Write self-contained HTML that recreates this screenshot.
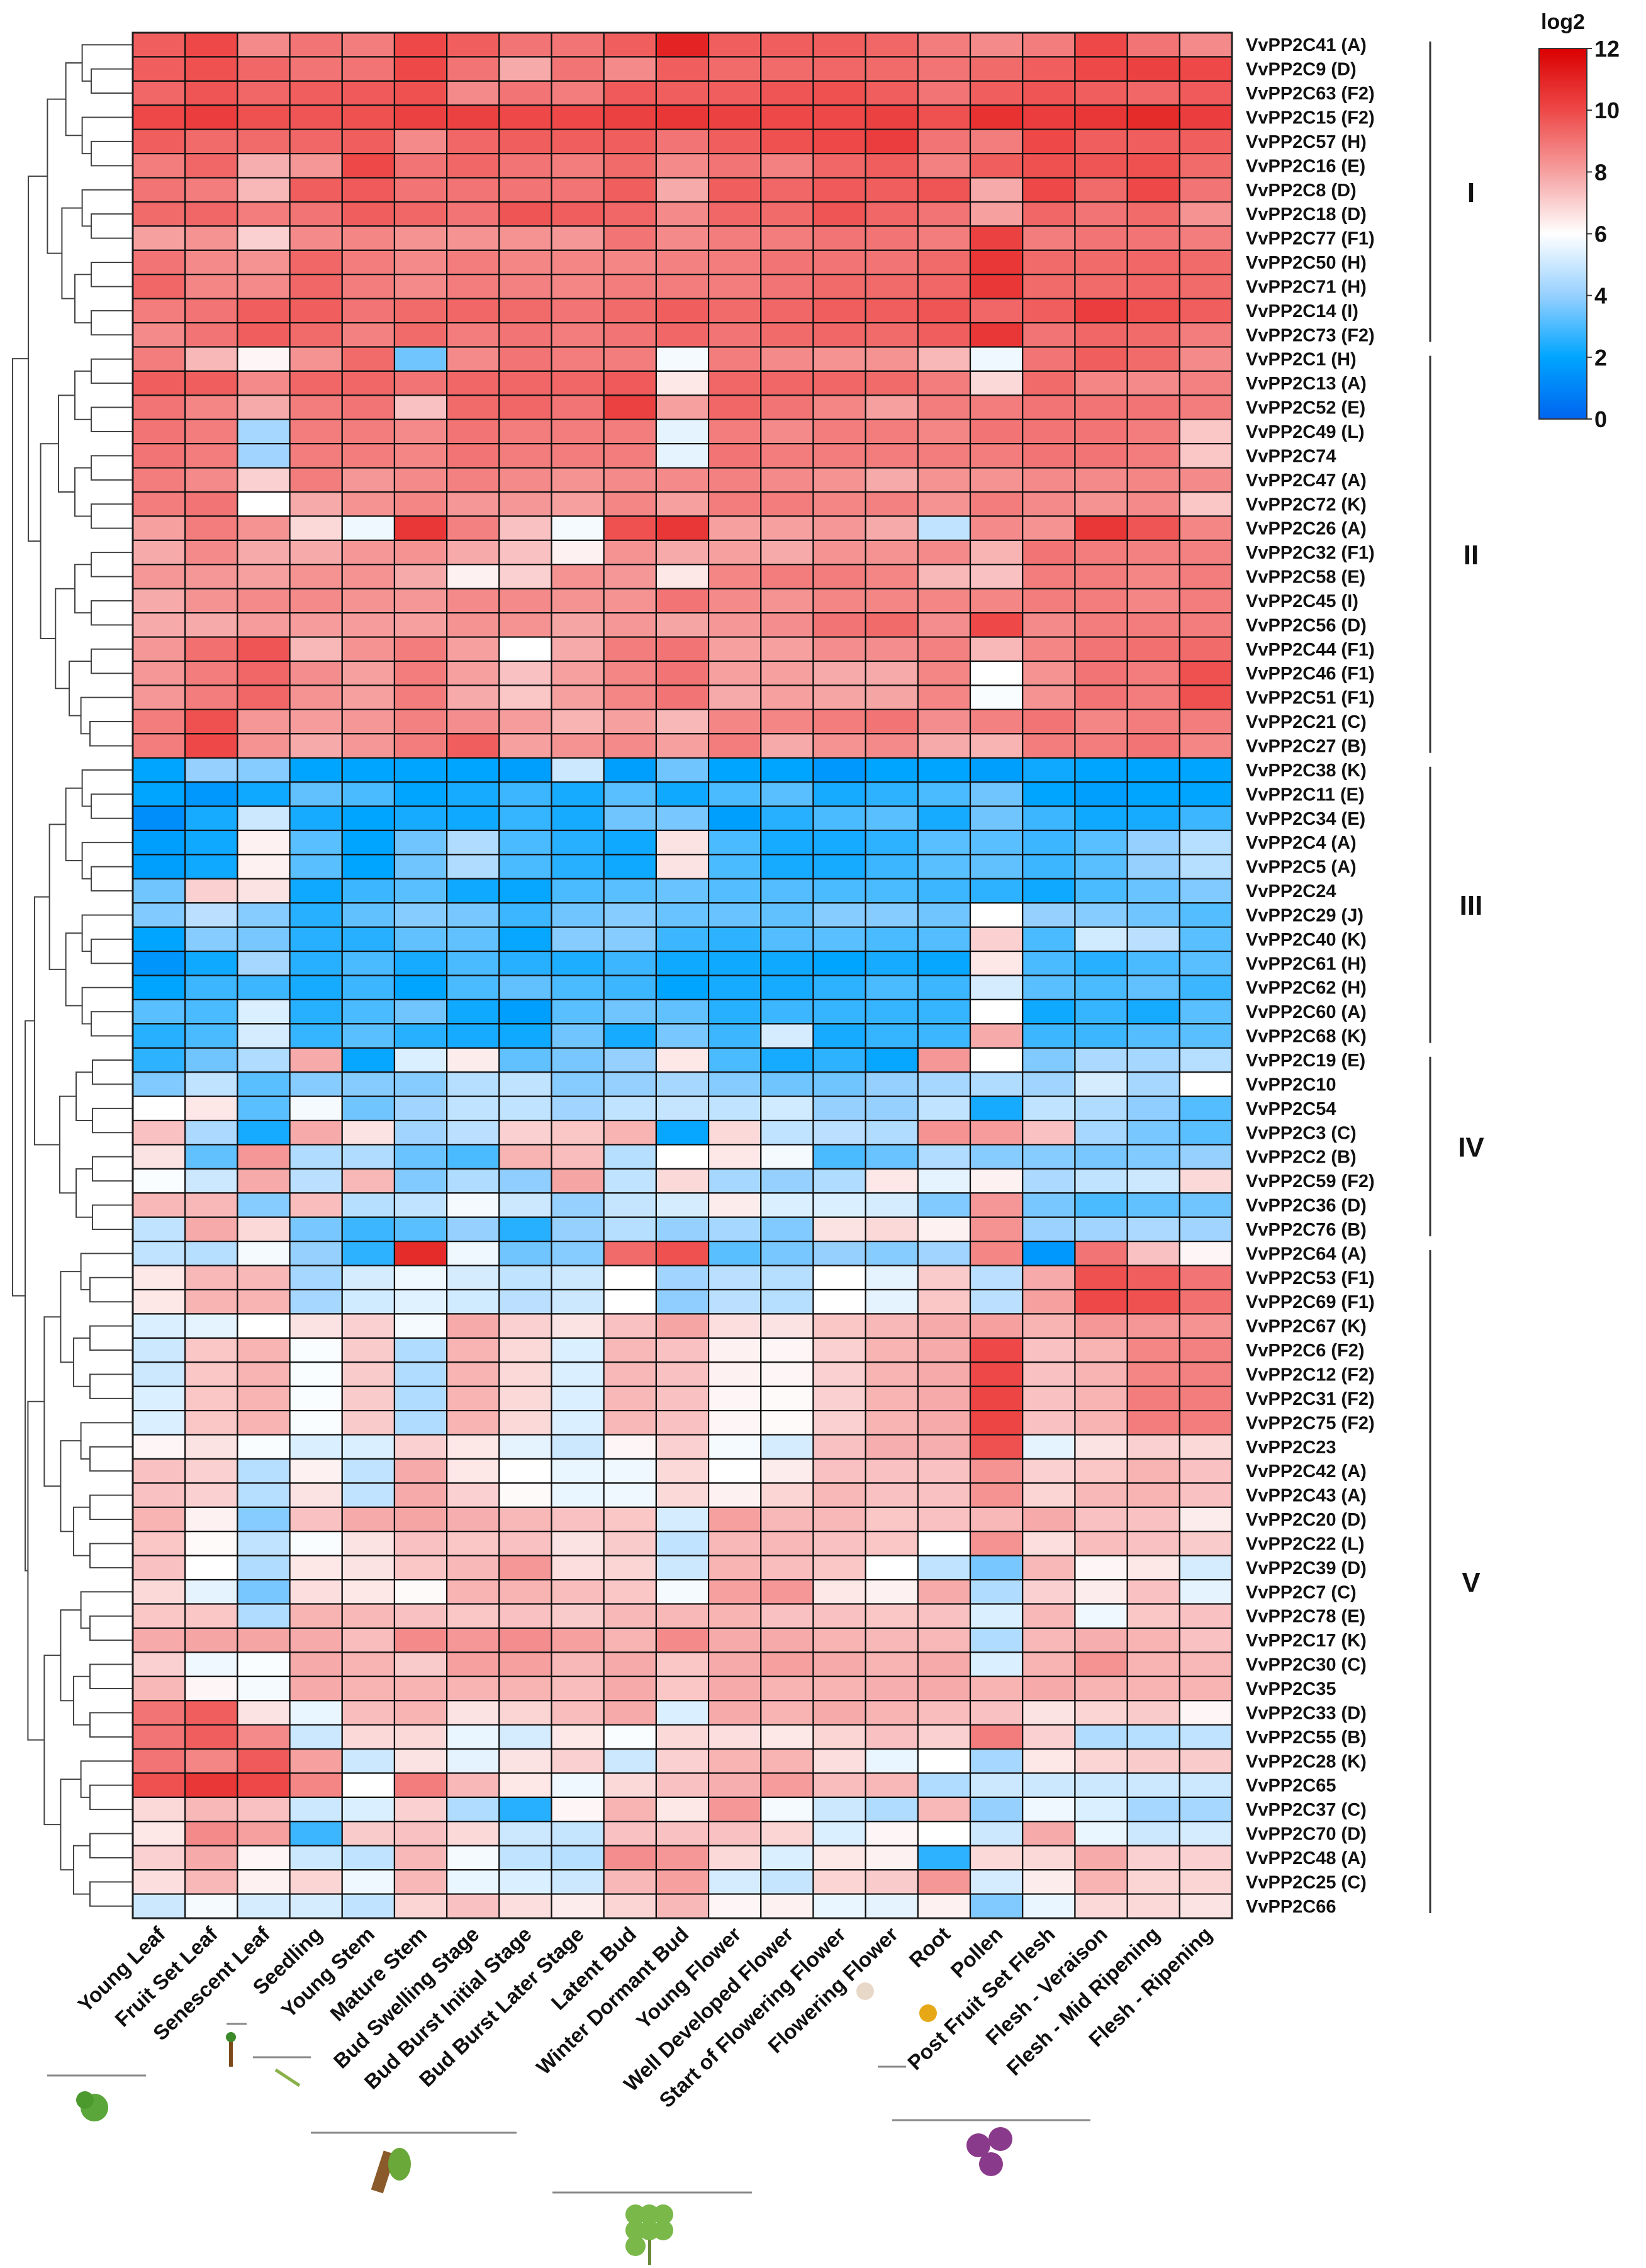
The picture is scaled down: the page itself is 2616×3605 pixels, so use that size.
<!DOCTYPE html>
<html><head><meta charset="utf-8">
<style>
html,body{margin:0;padding:0;background:#fff;}
svg{display:block;}
text{font-family:"Liberation Sans",sans-serif;}
</style></head>
<body>
<svg id="chart" width="2616" height="3605" viewBox="0 0 2616 3605" xmlns="http://www.w3.org/2000/svg">
<g id="dendro"></g>
<g id="cells"></g>
<g id="rowlabels"></g>
<g id="collabels"></g>
<g id="clusters"></g>
<g id="legend"></g>
<g id="icons"></g>
</svg>
<script>
const genes=["VvPP2C41 (A)","VvPP2C9 (D)","VvPP2C63 (F2)","VvPP2C15 (F2)","VvPP2C57 (H)","VvPP2C16 (E)","VvPP2C8 (D)","VvPP2C18 (D)","VvPP2C77 (F1)","VvPP2C50 (H)","VvPP2C71 (H)","VvPP2C14 (I)","VvPP2C73 (F2)","VvPP2C1 (H)","VvPP2C13 (A)","VvPP2C52 (E)","VvPP2C49 (L)","VvPP2C74","VvPP2C47 (A)","VvPP2C72 (K)","VvPP2C26 (A)","VvPP2C32 (F1)","VvPP2C58 (E)","VvPP2C45 (I)","VvPP2C56 (D)","VvPP2C44 (F1)","VvPP2C46 (F1)","VvPP2C51 (F1)","VvPP2C21 (C)","VvPP2C27 (B)","VvPP2C38 (K)","VvPP2C11 (E)","VvPP2C34 (E)","VvPP2C4 (A)","VvPP2C5 (A)","VvPP2C24","VvPP2C29 (J)","VvPP2C40 (K)","VvPP2C61 (H)","VvPP2C62 (H)","VvPP2C60 (A)","VvPP2C68 (K)","VvPP2C19 (E)","VvPP2C10","VvPP2C54","VvPP2C3 (C)","VvPP2C2 (B)","VvPP2C59 (F2)","VvPP2C36 (D)","VvPP2C76 (B)","VvPP2C64 (A)","VvPP2C53 (F1)","VvPP2C69 (F1)","VvPP2C67 (K)","VvPP2C6 (F2)","VvPP2C12 (F2)","VvPP2C31 (F2)","VvPP2C75 (F2)","VvPP2C23","VvPP2C42 (A)","VvPP2C43 (A)","VvPP2C20 (D)","VvPP2C22 (L)","VvPP2C39 (D)","VvPP2C7 (C)","VvPP2C78 (E)","VvPP2C17 (K)","VvPP2C30 (C)","VvPP2C35","VvPP2C33 (D)","VvPP2C55 (B)","VvPP2C28 (K)","VvPP2C65","VvPP2C37 (C)","VvPP2C70 (D)","VvPP2C48 (A)","VvPP2C25 (C)","VvPP2C66"];
const tissues=["Young Leaf","Fruit Set Leaf","Senescent Leaf","Seedling","Young Stem","Mature Stem","Bud Swelling Stage","Bud Burst Initial Stage","Bud Burst Later Stage","Latent Bud","Winter Dormant Bud","Young Flower","Well Developed Flower","Start of Flowering Flower","Flowering Flower","Root","Pollen","Post Fruit Set Flesh","Flesh - Veraison","Flesh - Mid Ripening","Flesh - Ripening"];
const values=[
[9.5,10,8.5,9,8.8,10,9.5,9,9,9.5,11,9.5,9.5,9.5,9.3,8.8,8.5,8.8,10,9,8.5],
[9.5,9.8,9.3,9,9,10,9,7.8,9,8.5,9.5,9.2,9.2,9.3,9.2,9,9.2,9.5,10,10.2,10],
[9.3,9.7,9.3,9.5,9.6,9.8,8.5,9,8.8,9.6,9.5,9.5,9.7,9.8,9.5,9,9.5,9.7,9.5,9.3,9.6],
[10,10.3,9.8,9.7,9.8,10.2,10.2,10,10,10.2,10.5,10.2,10,10,10.2,9.8,10.6,10.3,10.5,10.8,10.3],
[9.5,9.2,9.2,9.3,9.5,8.5,9.3,9.5,9.5,9.5,9,9.5,9.8,10,10.3,9,8.8,10,9.5,9.5,9.5],
[8.8,9.3,7.7,8.2,10,9,9.3,9,8.8,9.2,8.5,9,8.7,9.3,9.5,8.7,9.5,9.8,9.7,9.8,9.2],
[9,8.8,7.5,9.5,9.6,9,9,9,9,9.5,7.8,9.5,9.3,9.6,9.5,9.7,7.8,10,9.2,10,9],
[9.2,9.3,8.8,9,9.5,9.3,9,9.7,9.5,9.3,8.5,9.3,9.2,9.7,9.3,9,8,9.3,9,9.2,8.3],
[8,8.3,7,8.5,8.6,8.3,8.3,8.3,8.2,9,8.5,8.8,8.8,9,9,8.8,10.2,8.8,9,9,8.8],
[9,8.5,8.3,9.3,8.8,8.5,8.8,8.6,8.6,8.6,8.7,8.8,9,9,9,9.2,10.5,9.2,9.2,9.3,9.2],
[9.3,8.6,8.5,9.3,8.8,8.5,8.8,8.7,8.6,8.8,8.8,8.8,9,9.2,9.2,9.3,10.5,9.2,9.2,9.3,9.2],
[8.8,9,9.5,9.5,9,9.2,9.3,9.2,9,9.2,9.5,9.2,9.3,9.5,9.5,9.7,9.3,9.5,10.3,9.8,9.5],
[8.5,9,9.5,9.2,8.7,9.2,8.8,9,8.8,9,9.3,9,9.2,9.3,9.2,9.5,10.5,9,9.3,9.2,8.8],
[8.8,7.5,6.2,8.3,9.2,3.5,8.5,9,8.8,8.8,5.8,8.8,8.5,8.3,8.3,7.5,5.7,9,9.5,9.2,8.5],
[9.5,9.5,8.5,9.3,9.3,9,9.3,9.3,9.3,9.6,6.5,9.3,9.3,9.3,9.2,8.8,6.8,9.2,8.6,8.5,8.7],
[9,8.6,7.8,8.8,9,7.3,9.2,9.3,9,10.2,8,9.3,9,8.6,8,8.8,8.8,9,9,9,8.8],
[9,8.8,4.3,8.8,8.8,8.5,9,8.8,8.8,8.8,5.5,8.8,8.5,8.8,8.8,8.6,9,9,9,8.8,7.2],
[9,8.8,4.2,8.8,8.8,8.6,9,8.8,8.8,8.8,5.5,9,8.8,8.8,8.8,8.8,8.8,9,9,8.8,7.2],
[8.8,8.5,7,8.8,8.2,8.5,8.7,8.5,8.3,8.5,8.5,8.7,8.5,8.3,7.8,8.3,8.3,8.5,8.5,8.6,8.5],
[8.8,9,6,7.8,8.3,8.6,8.2,8.2,8,8.6,8,8.8,8.8,8.6,8.7,8.3,8.8,8.5,8.3,8.5,7.2],
[8,8.8,8.3,6.8,5.7,10.5,8.7,7.3,5.8,9.8,10.5,8,8,8.2,7.8,4.8,8.5,8.3,10.5,9.7,8.6],
[7.8,8.5,7.8,7.8,8.2,8.3,7.8,7.3,6.3,8.3,7.8,8,7.8,8.3,8.3,8.5,7.6,9,8.8,8.7,8.7],
[8.2,8.2,8,8.3,8.3,7.8,6.3,7,8.3,8.2,6.5,8.6,8.8,8.8,8.6,7.5,7.3,8.8,8.8,8.6,8.8],
[7.8,8.3,8.5,8.5,8.3,8.2,8.5,8.5,8.3,8.3,9,8.5,8.3,8.6,8.6,8.6,8.6,8.8,8.8,8.6,8.8],
[7.8,7.8,8.1,8.1,8.1,8,8.3,8.3,7.9,8.2,7.9,8.2,8.4,9,9.2,8.4,10,8.5,8.8,8.8,8.8],
[8.2,9.1,9.7,7.5,8.3,8.8,8,6,7.8,8.8,9,8,8,8.4,8.4,8.7,7.5,8.6,9,9.1,9.2],
[8.2,8.8,9.3,8.4,8,8.8,8,7.3,8,8.6,9,8,8,7.8,7.8,8.6,6,8.3,9,8.8,9.8],
[8.2,8.8,9.3,8.3,8,8.8,7.8,7.2,8,8.6,9,7.8,8,7.9,7.9,8.6,5.9,8.3,9,8.8,9.8],
[8.8,9.8,8.2,8.1,8.2,8.7,8.4,8.1,7.6,8,7.5,8.6,8.6,8.8,9,8.4,8.7,9,8.6,8.8,8.8],
[8.8,10,8.3,7.8,8.2,8.8,9.5,8,8.3,8.5,8,8.8,7.8,8.3,8.5,7.8,7.6,8.8,8.8,9,8.6],
[2,4,3.8,2,2,2,2,1.8,5,1.8,3.5,2,2,1.6,2,2,1.8,2.2,2,2,2],
[2,1.6,2.2,3.3,3,2,2.3,2.8,2.3,3.2,2.2,3,3.2,2.3,2.6,3,3.5,2,1.8,2,2],
[1.3,2.3,5,2.3,2,2.3,2.2,2.7,2.3,3.5,3.6,1.8,2.5,3,3.2,2.3,3.5,2.8,2.2,2.3,2.8],
[1.8,2.2,6.3,3.2,2,3.5,4.5,3,2.5,2.2,6.6,3,2.3,2.3,2.6,3.2,3.2,2.8,3.2,4,4.6],
[1.8,2.2,6.3,3.2,2,3.5,4.5,3,2.5,2.2,6.6,3,2.3,2.3,2.8,3.2,3.3,2.8,3.2,4,4.6],
[3.5,7,6.6,2.2,2.8,3.2,2.2,2.1,3,3.2,3.4,3.1,3.1,3,3,2.8,2.6,2.2,3,3.4,3.7],
[3.7,4.7,3.8,2.5,3.3,3.8,3.6,2.8,3.5,3.8,3.4,3.4,3.3,3.8,3.8,3.5,6,4,3.8,3.5,3.1],
[2,3.8,3.6,2.5,2.5,3.3,3.3,2.1,3.8,3.8,2.8,2.6,3.1,3.2,3,3.1,7,3,5.1,4.7,3.2],
[1.5,2.2,4.3,2.5,3,2.3,3,2.5,2.4,2.8,2.2,2.2,2.2,2,2.3,2.1,6.5,3,2.5,3,3.2],
[2,2.8,2.8,2.3,2.8,2,3,3.3,3,2.8,2,2.3,2.3,2.6,3,2.8,5.2,3.2,3,3.3,2.8],
[3.2,3,5.3,2.5,3,3.5,2.2,1.8,3.2,3.5,3.3,2.5,2.8,2.7,2.7,2.7,6,2.2,2.7,2.3,3.2],
[2.5,3,5.2,2.7,3.2,2.5,2.3,2.2,3.5,2.3,3.6,2.8,5.2,2.3,2.7,2.8,7.8,2.8,2.8,3.1,3.2],
[2.6,3.5,4.5,7.8,2.1,5.3,6.4,3.3,3.6,4,6.5,3,2.3,2.6,2.1,8.2,6,3.7,4.4,4.3,4.6],
[3.7,4.8,3.2,3.8,3.8,3.8,4.6,4.8,3.8,4,4.3,3.8,3.5,3.5,4,4.3,4.5,4.2,5.2,4.3,6],
[6,6.5,3.2,5.8,3.5,4.2,4.8,4.8,4.2,4.8,4.9,4.8,5.1,4,4,4.8,2.3,4.8,4.5,3.9,3.1],
[7.3,4.4,2.3,7.8,6.6,4.2,4.7,7,7.2,7.6,2.1,6.8,4.8,4.7,4.5,8.3,8.1,7.3,4.3,3.6,3.2],
[6.6,3.3,8.2,4.5,4.5,3.4,3,7.6,7.4,4.6,6,6.5,5.8,3,3.4,4.5,3.8,3.8,3.6,3.7,4],
[5.9,5,7.8,4.7,7.5,3.7,4.5,3.9,7.9,4.8,6.8,4.3,4,4.5,6.5,5.5,6.3,4.4,4.8,5,6.8],
[7.5,7.5,3.8,7.4,4.6,4.8,5.8,5,4,4.9,5.2,6.4,5.3,5.3,5.2,3.7,8.2,3.6,3,3.3,3.5],
[4.8,7.8,6.8,3.6,2.8,3.2,4,2.5,4,4.6,4,4.3,3.7,6.6,6.8,6.3,8.3,4.1,4.2,4.4,4.2],
[4.8,4.6,5.8,4,2.6,10.8,5.7,3.5,3.8,9.2,9.8,3.2,3.6,4,3.8,4.2,8.6,1.6,9,7.3,6.2],
[6.5,7.5,7.5,4.3,5.2,5.7,5.2,4.8,5,6,4.2,4.7,4.6,6,5.5,7.1,4.7,7.8,9.8,9.5,9],
[6.5,7.6,7.6,4.3,5.1,5.4,5.1,4.7,5,6,3.9,4.7,4.6,6,5.5,7.2,4.7,8,10,9.8,9.1],
[5.3,5.5,6,6.6,7,5.8,7.8,7,6.6,7.3,7.9,6.7,6.6,7.2,7.5,7.8,8,7.6,8.2,8.2,8.3],
[5,7.2,7.6,5.9,7.1,4.5,7.6,6.8,5.3,7.5,7.3,6.3,6.2,7,7.6,7.8,10,7.3,7.6,8.6,8.7],
[5,7.2,7.6,5.9,7.1,4.5,7.6,6.8,5.3,7.5,7.3,6.3,6.2,7,7.6,7.8,10,7.3,7.6,8.6,8.7],
[5.3,7.2,7.6,5.9,7.1,4.5,7.6,6.8,5.3,7.5,7.3,6.2,6.1,7,7.6,7.8,10.1,7.3,7.6,8.8,8.8],
[5.3,7.2,7.6,5.9,7.1,4.5,7.6,6.8,5.3,7.5,7.3,6.2,6.1,7,7.6,7.8,10.1,7.3,7.6,8.8,8.8],
[6.2,6.6,5.9,5.3,5.3,7,6.5,5.5,5,6.2,7,5.8,5.2,7.3,7.7,7.7,9.8,5.5,6.6,7,6.8],
[7.3,7,4.6,6.3,4.8,7.8,6.5,6,5.6,5.7,6.8,6,6.4,7.3,7.3,7.3,8.3,7,7.2,7.6,7.3],
[7.3,7,4.6,6.6,4.8,7.8,7,6.1,5.6,5.7,6.8,6.3,6.9,7.5,7.3,7.3,8.3,6.9,7.5,7.6,7.3],
[7.6,6.3,3.8,7.3,7.8,7.9,7.7,7.5,7.3,7.2,5.2,8,7.5,7.5,7.2,7.3,7.5,7.8,7.3,7.3,6.4],
[7.2,6.1,4.8,5.9,6.6,7.3,7.2,7.3,6.6,7.1,4.8,7.5,7.5,7.3,7.2,6,8.3,6.7,7.4,7.3,7.1],
[7.3,6,4.5,6.5,6.6,7.2,7.5,8.2,6.7,6.9,5,7.6,7.4,7.2,6,4.8,3.6,7.5,6.2,6.5,5.2],
[6.8,5.5,3.6,6.7,6.5,6.1,7.6,7.6,7.4,7.2,5.8,8,8.2,6.5,6.3,7.8,4.5,7,6.4,7.3,5.5],
[7.2,7.2,4.5,7.6,7.5,7.3,7.2,7.3,7.1,7.5,7.5,7.6,7.3,7.3,7.2,7.3,5.3,7.5,5.7,7.2,7.3],
[7.8,7.9,7.9,7.8,7.4,8.5,8.2,8.4,8,7.6,8.5,7.8,7.8,7.6,7.5,7.5,4.5,7.5,7.7,7.6,7.3],
[7,5.7,5.9,7.8,7.6,7.1,8,8,7.5,7.8,7.2,7.8,8,7.8,7.6,7.8,5.3,7.6,8.3,7.6,7.5],
[7.5,6.2,5.8,7.8,7.6,7.6,7.6,7.6,7.4,7.8,7.2,7.8,7.6,7.6,7.7,7.8,7.6,7.8,7.6,7.6,7.6],
[9,9.5,6.6,5.6,7.4,7.6,6.6,6.9,7.4,7.8,5.3,7.8,7.6,7.8,7.6,7.4,7.3,6.6,6.9,7.1,6.2],
[9,9.5,8.5,5,6.8,6.8,5.6,5.2,6.5,5.9,6.8,6.7,6.5,6.9,7.3,7,8.8,7,4.5,4.6,4.8],
[9,8.6,9.6,8,5,6.6,5.5,6.6,7,5,7,7.6,7.6,6.7,5.6,6,4.3,6.5,6.9,7.1,7.1],
[9.8,10.5,10,8.6,6,8.8,7.5,6.5,5.7,6.8,7.3,7.7,8.1,7.4,7.5,4.5,5,5,5,5,5],
[6.8,7.5,7.3,5,5.3,7,4.5,2.5,6.2,7.6,6.5,8.2,5.8,5,4.5,7.5,4,5.7,5.3,4.3,4.3],
[6.5,8.5,8,2.8,7.1,7.3,6.8,5,4.9,7.3,7.3,7.3,6.9,5.3,6.2,6,5,7.8,5.6,5,5.2],
[7,7.8,6.2,5,4.8,7.5,5.8,4.8,4.6,8.4,8.2,6.8,5.3,6.5,6.3,2.6,6.8,6.8,7.8,7,7],
[6.7,7.5,6.3,6.9,5.7,7.5,5.6,5.3,5,7.5,8,5.2,4.9,6.9,7.1,8.2,5.2,6.4,7.6,6.9,6.9],
[5,5.8,5.2,5.2,4.8,6.9,7.3,6.7,6.4,6.9,7.5,6.2,6.3,5.6,5.5,6.3,3.7,5.6,6.8,6.8,6.6]
];
const legendTicks=[0,2,4,6,8,10,12];
const clusterNames=["I","II","III","IV","V"];
const clusterStarts=[0,13,30,42,50];
const clusterEnds=[13,30,42,50,78];

const NS="http://www.w3.org/2000/svg";
const X0=211,X1=1958,Y0=52,Y1=3049;
const cw=(X1-X0)/tissues.length, rh=(Y1-Y0)/genes.length;
const xPos=i=>X0+i*cw, yPos=r=>Y0+r*rh;
const stops=[[0,[0,100,240]],[2,[0,165,255]],[4,[150,208,255]],[6,[255,255,255]],[8,[246,160,160]],[10,[238,72,72]],[12,[218,0,0]]];
function color(v){v=Math.max(0,Math.min(12,v));for(let i=0;i<stops.length-1;i++){const[a,ca]=stops[i],[b,cb]=stops[i+1];if(v<=b){const t=(v-a)/(b-a);return "rgb("+ca.map((c,k)=>Math.round(c+(cb[k]-c)*t)).join(",")+")";}}return "rgb(218,0,0)";}
function mk(tag,attrs,parent){const e=document.createElementNS(NS,tag);for(const k in attrs)e.setAttribute(k,attrs[k]);parent.appendChild(e);return e;}

const cells=document.getElementById('cells');
values.forEach((row,r)=>row.forEach((v,c)=>{
 const el=mk('rect',{x:xPos(c),y:yPos(r),width:cw,height:rh,fill:color(v),stroke:'#111','stroke-width':2.2},cells);
 
 
}));
mk('rect',{x:X0,y:Y0,width:X1-X0,height:Y1-Y0,fill:'none',stroke:'#222','stroke-width':3},cells);

const rl=document.getElementById('rowlabels');
genes.forEach((g,r)=>{
 const t=mk('text',{x:X1+22,y:yPos(r)+rh/2+10,'font-size':29,'font-weight':'bold',fill:'#111'},rl);
 t.textContent=g;
 
 
});

const cl=document.getElementById('collabels');
tissues.forEach((s,c)=>{
 const cx=xPos(c)+cw/2+12, cy=Y1+28;
 const t=mk('text',{x:cx,y:cy,'font-size':33,'font-weight':'bold',fill:'#111','text-anchor':'end',transform:`rotate(-44 ${cx} ${cy})`},cl);
 t.textContent=s;
 
 
});

const cg=document.getElementById('clusters');
clusterNames.forEach((n,i)=>{
 const ya=yPos(clusterStarts[i])+14, yb=yPos(clusterEnds[i])-8;
 const l=mk('line',{x1:2273,x2:2273,y1:ya,y2:yb,stroke:'#333','stroke-width':3},cg);
 
 
 const t=mk('text',{x:2338,y:(ya+yb)/2+16,'font-size':44,'font-weight':'bold',fill:'#111','text-anchor':'middle'},cg);
 t.textContent=n;
 
 
});

const lg=document.getElementById('legend');
const defs=mk('defs',{},lg);
const grad=mk('linearGradient',{id:'lgrad',x1:0,y1:1,x2:0,y2:0},defs);
stops.forEach(([v])=>mk('stop',{offset:(v/12*100)+'%','stop-color':color(v)},grad));
const LY0=77,LY1=666,LX=2446,LW=76;
mk('rect',{x:LX,y:LY0,width:LW,height:LY1-LY0,fill:'url(#lgrad)',stroke:'#333','stroke-width':2},lg);
const lt=mk('text',{x:LX+38,y:46,'font-size':34,'font-weight':'bold','text-anchor':'middle',fill:'#111'},lg);lt.textContent='log2';
legendTicks.forEach(v=>{
 const y=LY1-(v/12)*(LY1-LY0);
 mk('line',{x1:LX+LW,x2:LX+LW+8,y1:y,y2:y,stroke:'#333','stroke-width':2},lg);
 const t=mk('text',{x:LX+LW+12,y:y+13,'font-size':36,'font-weight':'bold',fill:'#111'},lg);
 t.textContent=v;
 
 
});

const dg=document.getElementById('dendro');
function build(a,b,depth){
 if(b-a===1){return [yPos(a)+rh/2,X0];}
 const m=Math.floor((a+b)/2);
 const L=build(a,m,depth+1),R=build(m,b,depth+1);
 const x=Math.max(8,X0-30-Math.log2(b-a)*28-depth*2);
 mk('path',{d:`M${L[1]},${L[0]}H${x}V${R[0]}H${R[1]}`,fill:'none',stroke:'#444','stroke-width':2},dg);
 return [(L[0]+R[0])/2,x];
}
const sub=clusterNames.map((n,i)=>build(clusterStarts[i],clusterEnds[i],1));
function join(p,q,x){mk('path',{d:`M${p[1]},${p[0]}H${x}V${q[0]}H${q[1]}`,fill:'none',stroke:'#444','stroke-width':2},dg);return [(p[0]+q[0])/2,x];}
const j1=join(sub[0],sub[1],45);
const j2=join(sub[2],sub[3],55);
const j3=join(j2,sub[4],40);
join(j1,j3,20);

const ic=document.getElementById('icons');
[[75,232,3299],[494,821,3390],[878,1195,3485],[1418,1733,3370],[360,392,3217],[402,494,3270],[1395,1440,3285]].forEach(([a,b,y])=>mk('line',{x1:a,x2:b,y1:y,y2:y,stroke:'#888','stroke-width':3},ic));
mk('circle',{cx:150,cy:3350,r:22,fill:'#5aa63a'},ic);
mk('circle',{cx:135,cy:3338,r:14,fill:'#4c9a2e'},ic);
mk('rect',{x:364,y:3235,width:6,height:50,fill:'#7a4a1a'},ic);
mk('circle',{cx:367,cy:3238,r:8,fill:'#3a8a2a'},ic);
mk('line',{x1:438,y1:3290,x2:476,y2:3315,stroke:'#8ab04a','stroke-width':5},ic);
mk('rect',{x:600,y:3420,width:20,height:65,fill:'#8a5a2a',transform:'rotate(18 610 3450)'},ic);
mk('ellipse',{cx:635,cy:3440,rx:18,ry:26,fill:'#6aa83a'},ic);
for(let i=0;i<7;i++)mk('circle',{cx:1010+(i%3)*22,cy:3520+Math.floor(i/3)*25,r:16,fill:'#7ab84a'},ic);
mk('rect',{x:1030,y:3560,width:5,height:40,fill:'#6a8a3a'},ic);
mk('circle',{cx:1475,cy:3200,r:14,fill:'#e6a817'},ic);
mk('circle',{cx:1375,cy:3165,r:14,fill:'#e8d8c8'},ic);
[[1555,3410],[1590,3400],[1575,3440]].forEach(([x,y])=>mk('circle',{cx:x,cy:y,r:19,fill:'#8a3a8a'},ic));
</script>
</body></html>
